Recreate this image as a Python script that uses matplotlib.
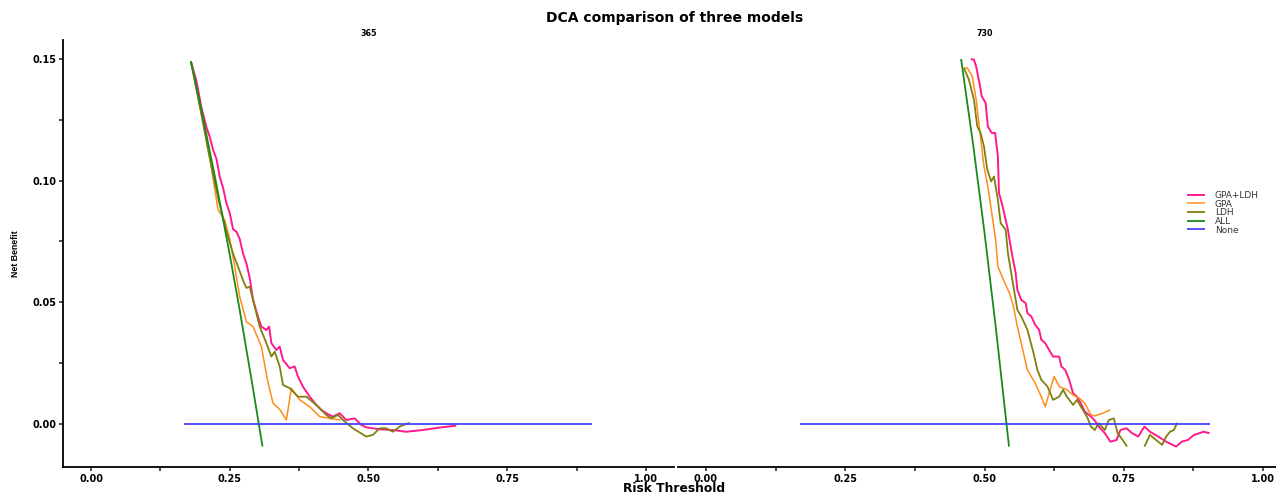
import numpy as np
import matplotlib
matplotlib.use("Agg")
import matplotlib.pyplot as plt
from matplotlib.ticker import FixedLocator

plt.rcParams['font.family'] = ['DejaVu Sans']

panels = ["365", "730"]
models = ["GPA+LDH", "GPA", "LDH", "ALL", "None"]
colors = ["#FF1A8C", "#FF8C1A", "#808010", "#1A8A1A", "#4444FF"]
widths = [1.4, 1.1, 1.3, 1.3, 1.3]

x_ticks = [0.0, 0.25, 0.5, 0.75, 1.0]
x_labels = ["0.00", "0.25", "0.50", "0.75", "1.00"]
y_ticks = [0.0, 0.05, 0.10, 0.15]
y_labels = ["0.00", "0.05", "0.10", "0.15"]

# ---- 365 days ----
x365_combo = [0.180, 0.190, 0.199, 0.208, 0.214, 0.220, 0.226, 0.232, 0.238, 0.244, 0.250, 0.256,
              0.262, 0.268, 0.274, 0.280, 0.286, 0.292, 0.301, 0.307, 0.316, 0.321, 0.325, 0.334,
              0.340, 0.346, 0.358, 0.367, 0.373, 0.382, 0.394, 0.406, 0.415, 0.424, 0.436, 0.448,
              0.460, 0.475, 0.487, 0.496, 0.520, 0.544, 0.568, 0.598, 0.628, 0.658]
y365_combo = [0.149, 0.141, 0.130, 0.122, 0.118, 0.1126, 0.109, 0.1016, 0.097, 0.0907, 0.0867, 0.080,
              0.079, 0.076, 0.070, 0.066, 0.060, 0.051, 0.044, 0.040, 0.0386, 0.040, 0.0332, 0.0304,
              0.0318, 0.0263, 0.0229, 0.0236, 0.0194, 0.0153, 0.0112, 0.0078, 0.0058, 0.0044, 0.0030, 0.0044,
              0.0016, 0.0023, -0.0004, -0.0014, -0.0022, -0.0025, -0.0032, -0.0025, -0.0015, -0.0007]

x365_gpa = [0.180, 0.200, 0.215, 0.229, 0.241, 0.250, 0.258, 0.268, 0.280, 0.292, 0.307, 0.318,
            0.328, 0.340, 0.352, 0.361, 0.376, 0.394, 0.412, 0.430, 0.450]
y365_gpa = [0.149, 0.126, 0.108, 0.088, 0.0838, 0.076, 0.066, 0.0523, 0.0420, 0.0400, 0.0318, 0.018,
            0.0085, 0.0060, 0.0016, 0.0147, 0.0099, 0.0071, 0.0030, 0.0023, 0.0016]

x365_ldh = [0.180, 0.200, 0.215, 0.230, 0.243, 0.256, 0.265, 0.274, 0.280, 0.286, 0.295, 0.304,
            0.316, 0.325, 0.331, 0.340, 0.346, 0.358, 0.373, 0.388, 0.406, 0.424, 0.433, 0.445,
            0.454, 0.472, 0.496, 0.508, 0.520, 0.532, 0.544, 0.556, 0.574]
y365_ldh = [0.149, 0.126, 0.108, 0.092, 0.080, 0.070, 0.0646, 0.059, 0.0559, 0.0564, 0.0482, 0.040,
            0.0332, 0.0277, 0.0297, 0.0236, 0.016, 0.0147, 0.0112, 0.0112, 0.0078, 0.0037, 0.0023, 0.0037,
            0.0016, -0.0018, -0.0052, -0.0045, -0.0018, -0.0018, -0.0032, -0.0011, 0.0005]

x365_all = [0.180, 0.200, 0.225, 0.250, 0.268, 0.290, 0.309]
y365_all = [0.149, 0.128, 0.0996, 0.0696, 0.0467, 0.0171, -0.0093]

x365_none = [0.168, 0.903]
y365_none = [0.0, 0.0]

# ---- 730 days ----
x730_combo = [0.4755, 0.481, 0.485, 0.492, 0.495, 0.502, 0.506, 0.513, 0.519, 0.524, 0.526, 0.531,
              0.538, 0.542, 0.549, 0.556, 0.559, 0.566, 0.574, 0.577, 0.584, 0.591, 0.598, 0.602,
              0.609, 0.616, 0.623, 0.634, 0.638, 0.645, 0.652, 0.659, 0.666, 0.673, 0.680, 0.691,
              0.698, 0.705, 0.716, 0.726, 0.737, 0.744, 0.755, 0.765, 0.776, 0.787, 0.797, 0.812,
              0.826, 0.844, 0.854, 0.865, 0.876, 0.886, 0.893, 0.904]
y730_combo = [0.150, 0.1497, 0.147, 0.1388, 0.1347, 0.1319, 0.1223, 0.1196, 0.1196, 0.110, 0.0949, 0.0908,
              0.0839, 0.0798, 0.0702, 0.062, 0.0551, 0.051, 0.0496, 0.0455, 0.0442, 0.0407, 0.0387, 0.0346,
              0.0332, 0.0304, 0.0277, 0.0277, 0.0236, 0.0222, 0.0181, 0.0126, 0.0112, 0.0085, 0.0051, 0.0030,
              0.0014, -0.0011, -0.0038, -0.0073, -0.0066, -0.0025, -0.0018, -0.0038, -0.0052, -0.0011, -0.0032, -0.0052,
              -0.0073, -0.0093, -0.0073, -0.0066, -0.0045, -0.0038, -0.0032, -0.0038]

x730_gpa = [0.463, 0.469, 0.478, 0.485, 0.492, 0.499, 0.506, 0.513, 0.520, 0.524, 0.534, 0.545,
            0.552, 0.559, 0.566, 0.577, 0.591, 0.602, 0.609, 0.616, 0.625, 0.634, 0.648, 0.659,
            0.670, 0.680, 0.691, 0.698, 0.712, 0.726]
y730_gpa = [0.1463, 0.1463, 0.1429, 0.1333, 0.1196, 0.1059, 0.0976, 0.0867, 0.0757, 0.0647, 0.0592, 0.0537,
            0.0483, 0.040, 0.0332, 0.0222, 0.0167, 0.0112, 0.0071, 0.0126, 0.0195, 0.0154, 0.0140, 0.0119,
            0.0106, 0.0085, 0.0037, 0.0033, 0.0044, 0.0058]

x730_ldh = [0.463, 0.472, 0.481, 0.487, 0.493, 0.499, 0.505, 0.512, 0.517, 0.524, 0.529, 0.538,
            0.542, 0.549, 0.559, 0.566, 0.577, 0.588, 0.595, 0.602, 0.613, 0.623, 0.634, 0.641,
            0.648, 0.659, 0.666, 0.673, 0.684, 0.691, 0.698, 0.705, 0.716, 0.723, 0.732, 0.739,
            0.748, 0.756, 0.770, 0.787, 0.797, 0.808, 0.819, 0.826, 0.833, 0.840, 0.846]
y730_ldh = [0.1463, 0.1415, 0.1333, 0.1223, 0.1196, 0.1141, 0.1045, 0.0997, 0.1017, 0.0921, 0.0825, 0.0798,
            0.0702, 0.0606, 0.0469, 0.0442, 0.0387, 0.0291, 0.0222, 0.0181, 0.0154, 0.0099, 0.0112, 0.0140,
            0.0112, 0.0078, 0.0099, 0.0071, 0.0030, -0.0011, -0.0025, 0.0003, -0.0025, 0.0016, 0.0023, -0.0038,
            -0.0066, -0.0093, np.nan, -0.0093, -0.0045, -0.0066, -0.0086, -0.0052, -0.0032, -0.0025, 0.0005]

x730_all = [0.458, 0.480, 0.500, 0.520, 0.544]
y730_all = [0.150, 0.1141, 0.0786, 0.0402, -0.0093]

x730_none = [0.168, 0.904]
y730_none = [0.0, 0.0]

series = {
    "365": [(x365_combo, y365_combo), (x365_gpa, y365_gpa), (x365_ldh, y365_ldh),
            (x365_all, y365_all), (x365_none, y365_none)],
    "730": [(x730_combo, y730_combo), (x730_gpa, y730_gpa), (x730_ldh, y730_ldh),
            (x730_all, y730_all), (x730_none, y730_none)],
}

W, H = 1276, 492
fig = plt.figure(figsize=(W / 100, H / 100), dpi=100)
ax1 = fig.add_axes([63.25 / W, 25 / H, 610.5 / W, 427 / H])
ax2 = fig.add_axes([678.1 / W, 25 / H, 612.8 / W, 427 / H])

for ax, name in zip([ax1, ax2], panels):
    for (xs, ys), lab, c, lw in zip(series[name], models, colors, widths):
        ax.plot(xs, ys, color=c, lw=lw, label=lab, solid_capstyle='butt')
    ax.set_xlim(-0.05, 1.05)
    ax.set_ylim(-0.0177, 0.1578)
    ax.set_xticks(x_ticks)
    ax.set_xticklabels(x_labels, fontsize=7, fontweight='bold')
    ax.xaxis.set_minor_locator(FixedLocator([0.125, 0.375, 0.625, 0.875]))
    ax.tick_params(axis='both', which='both', direction='out', length=3, width=1.1,
                   color='#222222', pad=2)
    ax.set_title(name, fontsize=5.8, fontweight='bold', pad=3)
    for s in ['top', 'right']:
        ax.spines[s].set_visible(False)
    ax.spines['bottom'].set_linewidth(1.3)
    ax.spines['left'].set_linewidth(1.3)
    ax.patch.set_alpha(0)

ax1.set_yticks(y_ticks)
ax1.set_yticklabels(y_labels, fontsize=7, fontweight='bold')
ax1.yaxis.set_minor_locator(FixedLocator([0.025, 0.075, 0.125]))
ax2.spines['left'].set_visible(False)
ax2.tick_params(axis='y', which='both', left=False, labelleft=False)

fig.text(675 / W, 1 - 18 / H, "DCA comparison of three models", ha='center', va='center',
         fontsize=10, fontweight='bold')
fig.text(674 / W, 1 - 488 / H, "Risk Threshold", ha='center', va='center',
         fontsize=8.8, fontweight='bold')
fig.text(15 / W, 1 - 254 / H, "Net Benefit", ha='center', va='center', rotation=90,
         fontsize=6.3, fontweight='bold', family=['Liberation Sans', 'DejaVu Sans'])

handles = ax2.get_lines()
fig.legend(handles, models, loc='upper left', bbox_to_anchor=(1187 / W, 1 - 191 / H),
           frameon=False, fontsize=6.5, handlelength=2.0, handletextpad=1.1,
           labelspacing=-0.04, borderpad=0, borderaxespad=0, labelcolor='#333333')

fig.savefig("out.png", dpi=100)
